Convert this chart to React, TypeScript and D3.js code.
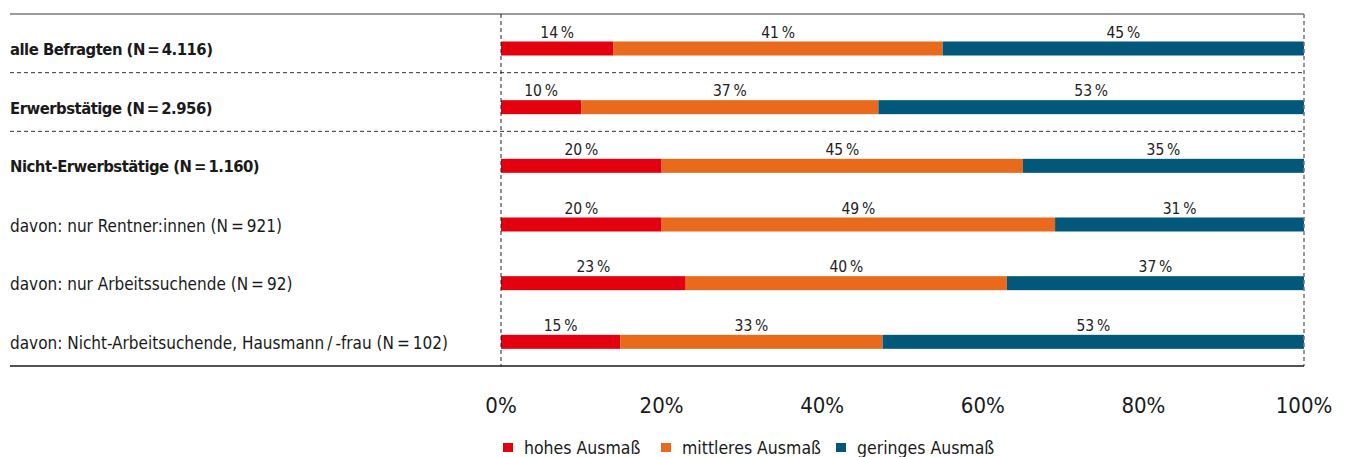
import React from "react";
import * as d3 from "d3";

const categories = [
  "alle Befragten (N\u2009=\u20094.116)",
  "Erwerbstätige (N\u2009=\u20092.956)",
  "Nicht-Erwerbstätige (N\u2009=\u20091.160)",
  "davon: nur Rentner:innen (N\u2009=\u2009921)",
  "davon: nur Arbeitssuchende (N\u2009=\u200992)",
  "davon: Nicht-Arbeitsuchende, Hausmann\u2009/\u2009-frau (N\u2009=\u2009102)",
];
const boldRows = [true, true, true, false, false, false];
const hohes = [14, 10, 20, 20, 23, 15];
const mittleres = [41, 37, 45, 49, 40, 33];
const geringes = [45, 53, 35, 31, 37, 53];
const seriesNames = ["hohes Ausmaß", "mittleres Ausmaß", "geringes Ausmaß"];
const seriesColors = ["#e3000f", "#ea6a1d", "#02587b"];
const tickValues = [0, 20, 40, 60, 80, 100];
const separatorsAfter = [0, 1];

const W = 1349;
const H = 457;
const FONT = "'Liberation Sans Narrow', 'DejaVu Sans Condensed', 'Roboto Condensed', sans-serif";

export default function App() {
  const x = d3.scaleLinear().domain([0, 100]).range([501, 1304]);
  const y = d3.scaleBand<string>().domain(categories).range([14, 366]).padding(0);
  const rows = categories.map((c, i) => ({
    cat: c,
    vals: [hohes[i], mittleres[i], geringes[i]],
  }));
  const bh = 14;
  const barOffset = 27.5;

  return (
    <svg width={W} height={H} style={{ position: "absolute", left: 0, top: 0, background: "#fff" }}>
      <line x1={10} x2={1304} y1={14} y2={14} stroke="#7a7a7a" strokeWidth={1.5} />
      {separatorsAfter.map((i) => {
        const yy = (y(categories[i]) as number) + y.bandwidth();
        return (
          <line key={"sep" + i} x1={10} x2={1304} y1={yy} y2={yy} stroke="#333" strokeWidth={1} strokeDasharray="4,3" />
        );
      })}
      {rows.map((r, i) => {
        const total = d3.sum(r.vals);
        let acc = 0;
        const y0 = (y(r.cat) as number) + barOffset;
        return (
          <g key={r.cat}>
            {r.vals.map((v, j) => {
              const a = (acc / total) * 100;
              acc += v;
              const b = (acc / total) * 100;
              const x0 = x(a);
              const x1 = x(b);
              return (
                <g key={j}>
                  <rect x={x0} y={y0} width={x1 - x0} height={bh} fill={seriesColors[j]} />
                  <text
                    x={(x0 + x1) / 2}
                    y={y0 - 4}
                    textAnchor="middle"
                    fontFamily={FONT}
                    fontSize={15.5}
                    fill="#222"
                  >
                    {v + "\u2009%"}
                  </text>
                </g>
              );
            })}
            <text
              x={10}
              y={y0 + bh / 2 + 1}
              dominantBaseline="central"
              fontFamily={FONT}
              fontSize={boldRows[i] ? 16.5 : 17}
              letterSpacing={boldRows[i] ? -0.5 : 0}
              fontWeight={boldRows[i] ? "bold" : "normal"}
              fill="#1a1a1a"
            >
              {r.cat}
            </text>
          </g>
        );
      })}
      <line x1={x(0)} x2={x(0)} y1={14} y2={366} stroke="#222" strokeWidth={1} strokeDasharray="4,3" />
      <line x1={x(100)} x2={x(100)} y1={14} y2={366} stroke="#777" strokeWidth={1.5} strokeDasharray="4,3" />
      <line x1={10} x2={1304} y1={366} y2={366} stroke="#1a1a1a" strokeWidth={1.5} />
      {tickValues.map((t) => (
        <text key={t} x={x(t)} y={413} textAnchor="middle" fontFamily={FONT} fontSize={22} fill="#1a1a1a">
          {t + "%"}
        </text>
      ))}
      {seriesNames.map((s, i) => {
        const lx = [503, 661, 836][i];
        return (
          <g key={s}>
            <rect x={lx} y={443} width={10} height={9} fill={seriesColors[i]} />
            <text x={lx + 21} y={454} fontFamily={FONT} fontSize={17.5} fill="#1a1a1a">
              {s}
            </text>
          </g>
        );
      })}
    </svg>
  );
}
